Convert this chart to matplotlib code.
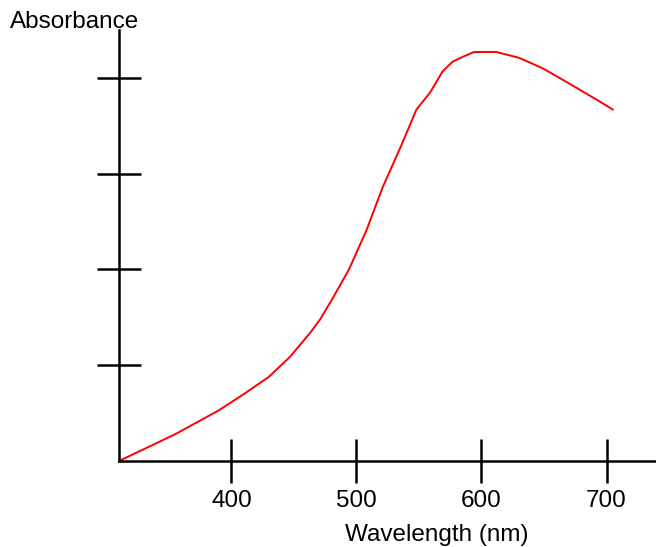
import matplotlib
matplotlib.use('Agg')
import matplotlib.pyplot as plt

# absorbance spectrum
wavelength = [310, 355, 390, 410, 430, 447, 463, 471, 481, 494, 508, 521, 535,
              548, 559, 569, 577, 585, 594, 612, 630, 649, 669, 695, 705]
absorbance = [0.0, 0.28, 0.53, 0.70, 0.88, 1.09, 1.34, 1.48, 1.70, 2.00, 2.41,
              2.86, 3.27, 3.67, 3.85, 4.07, 4.17, 4.22, 4.27, 4.27, 4.21, 4.10,
              3.95, 3.75, 3.67]
x_ticks = [400, 500, 600, 700]
y_ticks = [1, 2, 3, 4]

plt.rcParams['font.family'] = ['Liberation Sans', 'DejaVu Sans']

W, H = 656, 547
fig = plt.figure(figsize=(W / 100, H / 100), dpi=100)
ax = fig.add_axes([119 / W, (H - 461) / H, (W - 119) / W, (461 - 30) / H])

ax.plot(wavelength, absorbance, color='#ff0000', lw=1.4)

ax.set_xlim(310, 310 + (W - 119) / 1.25)
ax.set_ylim(0, 4.5)

ax.spines['top'].set_visible(False)
ax.spines['right'].set_visible(False)
for s in ('left', 'bottom'):
    ax.spines[s].set_linewidth(1.8)
    ax.spines[s].set_color('black')

ax.set_xticks(x_ticks)
ax.set_xticklabels([str(t) for t in x_ticks], fontsize=17.5)
ax.set_yticks(y_ticks)
ax.set_yticklabels([])
ax.tick_params(axis='both', direction='inout', length=32, width=1.8, color='black')
ax.tick_params(axis='x', pad=5)

ax.set_xlabel('Wavelength (nm)', fontsize=17.5, va='center')
ax.xaxis.set_label_coords((437 - 119) / (W - 119), -(535 - 461) / (461 - 30))
fig.text(10 / W, 1 - 22 / H, 'Absorbance', fontsize=17.5, va='center', ha='left')

fig.savefig('out.png', dpi=100)
